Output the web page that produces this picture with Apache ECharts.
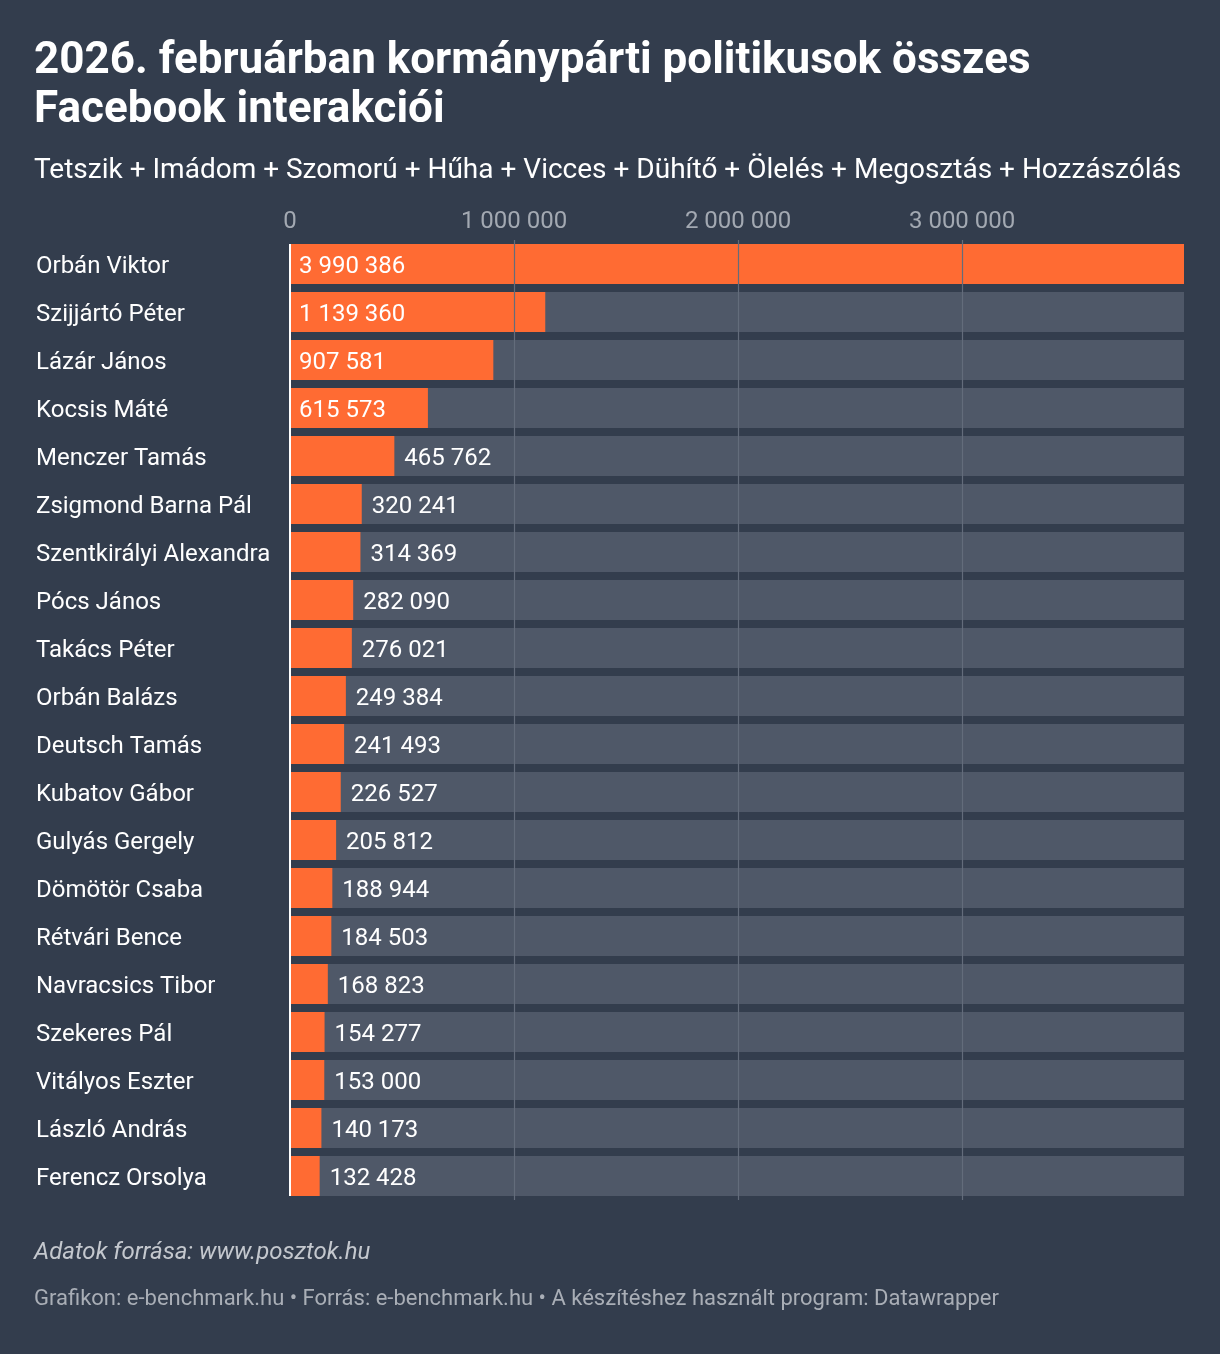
<!DOCTYPE html>
<html>
<head>
<meta charset="utf-8">
<script src="https://cdn.jsdelivr.net/npm/echarts@6/dist/echarts.min.js"></script>
<style>
  html, body { margin: 0; padding: 0; background: #333d4d; }
  #chart { width: 1220px; height: 1354px; }
</style>
</head>
<body>
<div id="chart"></div>
<script>
var names = ['Orbán Viktor', 'Szijjártó Péter', 'Lázár János', 'Kocsis Máté', 'Menczer Tamás',
    'Zsigmond Barna Pál', 'Szentkirályi Alexandra', 'Pócs János', 'Takács Péter', 'Orbán Balázs',
    'Deutsch Tamás', 'Kubatov Gábor', 'Gulyás Gergely', 'Dömötör Csaba', 'Rétvári Bence',
    'Navracsics Tibor', 'Szekeres Pál', 'Vitályos Eszter', 'László András', 'Ferencz Orsolya'];
var values = [3990386, 1139360, 907581, 615573, 465762,
    320241, 314369, 282090, 276021, 249384,
    241493, 226527, 205812, 188944, 184503,
    168823, 154277, 153000, 140173, 132428];
var ticks = [0, 1000000, 2000000, 3000000];

var axisMax = Math.max.apply(null, values);

function fmt(v) {
    return String(Math.round(v)).replace(/\B(?=(\d{3})+(?!\d))/g, ' ');
}

var font = 'Roboto, "Noto Sans", sans-serif';

var barData = values.map(function (v) {
    var inside = v > 600000;
    return {
        value: v,
        label: {
            show: true,
            position: inside ? 'insideLeft' : 'right',
            distance: inside ? 9 : 10,
            offset: [0, 3],
            color: '#ffffff',
            fontSize: 24,
            fontFamily: font,
            formatter: function (p) { return fmt(p.value); }
        }
    };
});

var chart = echarts.init(document.getElementById('chart'));
var option = {
    backgroundColor: '#333d4d',
    animation: false,
    title: [{
        text: '2026. februárban kormánypárti politikusok összes\nFacebook interakciói',
        left: 34,
        top: 37,
        padding: 0,
        textStyle: {
            color: '#ffffff',
            fontSize: 44,
            fontWeight: 'bold',
            fontFamily: font,
            lineHeight: 49
        }
    }, {
        text: 'Tetszik + Imádom + Szomorú + Hűha + Vicces + Dühítő + Ölelés + Megosztás + Hozzászólás',
        left: 34,
        top: 154,
        padding: 0,
        textStyle: {
            color: '#ffffff',
            fontSize: 28,
            lineHeight: 34,
            fontWeight: 'normal',
            fontFamily: font
        }
    }, {
        text: 'Adatok forrása: www.posztok.hu',
        left: 34,
        top: 1238,
        padding: 0,
        textStyle: {
            color: '#c4c8ce',
            fontSize: 24,
            lineHeight: 30,
            fontStyle: 'italic',
            fontWeight: 'normal',
            fontFamily: font
        }
    }, {
        text: 'Grafikon: e-benchmark.hu • Forrás: e-benchmark.hu • A készítéshez használt program: Datawrapper',
        left: 34,
        top: 1285,
        padding: 0,
        textStyle: {
            color: '#a9aeb6',
            fontSize: 22,
            lineHeight: 28,
            fontWeight: 'normal',
            fontFamily: font
        }
    }],
    grid: {
        left: 290,
        right: 36,
        top: 240,
        height: 960,
        containLabel: false
    },
    xAxis: {
        type: 'value',
        position: 'top',
        min: 0,
        max: axisMax,
        interval: 1000000,
        axisLine: { show: false },
        axisTick: { show: false },
        splitLine: { show: false },
        axisLabel: {
            color: '#a3a9b2',
            fontSize: 24,
            fontFamily: font,
            margin: 6,
            formatter: function (v) {
                return ticks.indexOf(v) >= 0 ? fmt(v) : '';
            }
        }
    },
    yAxis: {
        type: 'category',
        data: names,
        inverse: true,
        axisLine: { show: false },
        axisTick: { show: false },
        axisLabel: {
            align: 'left',
            margin: 254,
            formatter: function (v) { return '{n|' + v + '}'; },
            rich: {
                n: {
                    color: '#ffffff',
                    fontSize: 24,
                    fontFamily: font,
                    padding: [6, 0, 0, 0]
                }
            }
        }
    },
    series: [{
        // grey track behind every bar
        type: 'bar',
        data: values.map(function () { return axisMax; }),
        barWidth: 40,
        silent: true,
        z: 1,
        itemStyle: { color: '#4f5868' },
        markLine: {
            silent: true,
            symbol: 'none',
            label: { show: false },
            lineStyle: { color: '#636c7b', type: 'solid', width: 1.2 },
            data: ticks.slice(1).map(function (t) { return { xAxis: t }; })
        }
    }, {
        type: 'bar',
        data: barData,
        barWidth: 40,
        barGap: '-100%',
        z: 3,
        itemStyle: { color: '#ff6b33' },
        markLine: {
            silent: true,
            symbol: 'none',
            label: { show: false },
            lineStyle: { color: '#ffffff', type: 'solid', width: 2 },
            data: [[{ coord: [0, names[0]], y: 244 }, { coord: [0, names[names.length - 1]], y: 1196 }]]
        }
    }]
};
chart.setOption(option);
</script>
</body>
</html>
